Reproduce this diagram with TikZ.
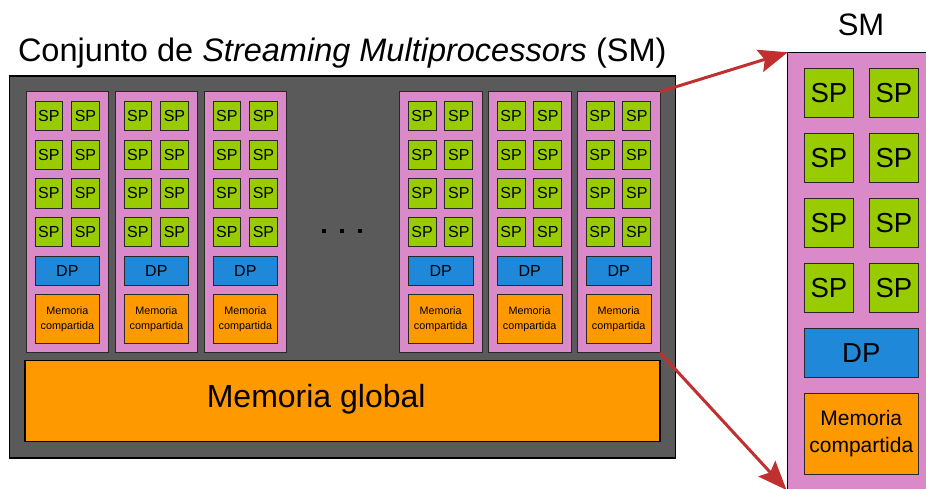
\documentclass[tikz,border=0pt]{standalone}
\usepackage{fontspec}
\setmainfont{Liberation Sans}
\usetikzlibrary{arrows.meta}

\definecolor{gpugray}{RGB}{90,90,90}
\definecolor{smpink}{RGB}{218,138,200}
\definecolor{spgreen}{RGB}{153,204,0}
\definecolor{dpblue}{RGB}{31,136,216}
\definecolor{memorange}{RGB}{255,153,0}
\definecolor{linkred}{RGB}{192,48,48}
\definecolor{edge}{RGB}{40,40,40}

\begin{document}
\begin{tikzpicture}[x=1pt,y=-1pt,
  box/.style={draw=edge, line width=0.9pt, inner sep=0pt, outer sep=0pt, anchor=north west},
  smbox/.style={box, fill=smpink, minimum width=82.7pt, minimum height=261pt},
  spbox/.style={box, fill=spgreen, minimum width=27.7pt, minimum height=29.7pt,
                font=\fontsize{16}{19}\selectfont},
  dpbox/.style={box, fill=dpblue, minimum width=64.7pt, minimum height=29.3pt,
                font=\fontsize{16}{19}\selectfont},
  membox/.style={box, fill=memorange, minimum width=64.7pt, minimum height=49pt,
                 align=center, font=\fontsize{10.8}{15}\selectfont},
  bigsp/.style={box, fill=spgreen, minimum width=49.2pt, minimum height=49pt,
                font=\fontsize{27.5}{32}\selectfont},
  bigdp/.style={box, fill=dpblue, minimum width=114pt, minimum height=48.7pt,
                font=\fontsize{27.5}{32}\selectfont},
  bigmem/.style={box, fill=memorange, minimum width=114pt, minimum height=80.7pt,
                 align=center, font=\fontsize{21}{27.7}\selectfont},
  link/.style={linkred, line width=3pt, -{Stealth[length=29pt, width=23pt, inset=5pt]}},
  dot/.style={fill=black}
]
\useasboundingbox (0,0) rectangle (926,489);
\clip (0,0) rectangle (926,489);

% heading
\node[anchor=base west, inner sep=0pt, font=\fontsize{32.5}{38}\selectfont] (title)
  at (17.8,61.7) {Conjunto de \textit{Streaming Multiprocessors} (SM)};

% device frame
\node[box, draw=black, line width=1.4pt, fill=gpugray, minimum width=666pt, minimum height=382pt]
  (gpu) at (9.3,76) {};

% global memory
\node[box, draw=black, line width=1.4pt, fill=memorange, minimum width=635pt, minimum height=81pt]
  (global) at (25,360.7) {};
\node[anchor=base, inner sep=0pt, font=\fontsize{32}{38}\selectfont] (globaltext)
  at (316.2,407.7) {Memoria global};

% streaming multiprocessors
\foreach \i/\x in {1/26, 2/115, 3/204, 4/399.3, 5/488.3, 6/577.3} {
  \node[smbox] (sm\i) at (\x,91.7) {};
  \foreach \r/\y in {1/101, 2/140, 3/178.3, 4/217} {
    \node[spbox] (sm\i-sp\r a) at ({\x+9},\y) {SP};
    \node[spbox] (sm\i-sp\r b) at ({\x+45.6},\y) {SP};
  }
  \node[dpbox] (sm\i-dp) at ({\x+9},256) {DP};
  \node[membox] (sm\i-mem) at ({\x+9},294.3) {Memoria\\compartida};
}

% ellipsis between the groups
\foreach \k/\x in {1/323.7, 2/342, 3/360.3} {
  \fill[dot] ({\x-2},229) rectangle ({\x+2},233);
}

% enlarged multiprocessor
\node[anchor=base, inner sep=0pt, font=\fontsize{31}{36}\selectfont] (smtitle) at (861,35.7) {SM};
\node[box, draw=black, line width=1.4pt, fill=smpink, minimum width=160pt, minimum height=460pt]
  (bigsm) at (787.7,52.3) {};
\foreach \r/\y in {1/68.3, 2/133.3, 3/198.3, 4/263.3} {
  \node[bigsp] (big-sp\r a) at (804.3,\y) {SP};
  \node[bigsp] (big-sp\r b) at (869.3,\y) {SP};
}
\node[bigdp] (big-dp) at (804.3,328.3) {DP};
\node[bigmem] (big-mem) at (804.3,393.3) {Memoria\\compartida};

% zoom arrows
\coordinate (bigsm-low) at (786.5,490);
\draw[link] (sm6.north east) -- (bigsm.north west);
\draw[link] (sm6.south east) -- (bigsm-low);
\end{tikzpicture}
\end{document}
